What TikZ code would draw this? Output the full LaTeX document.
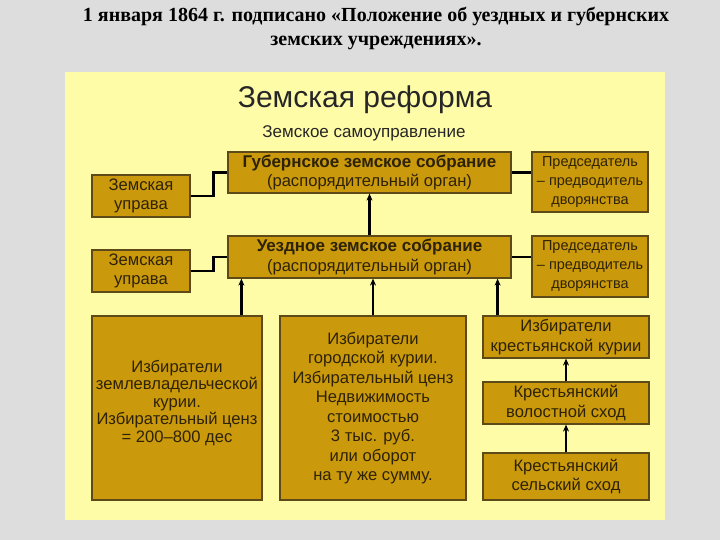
\documentclass[tikz,border=0pt]{standalone}
\usepackage{fontspec}
\setmainfont{Liberation Sans}
\newfontfamily\headfont{Liberation Serif}
\usetikzlibrary{arrows.meta, positioning, calc}
\definecolor{cPanel}{HTML}{FFFCA8}
\definecolor{cBack}{HTML}{DDDDDD}
\definecolor{cGold}{HTML}{CA9A0C}
\definecolor{cEdge}{HTML}{5E4A18}
\definecolor{cInk}{HTML}{2E2206}

\begin{document}
\begin{tikzpicture}[x=1pt, y=-1pt,
    box/.style={rectangle, draw=cEdge, fill=cGold, line width=1.2pt, inner sep=0pt, align=center, text=cInk, font=\fontsize{16.6}{19.5}\selectfont},
    smallbox/.style={box, font=\fontsize{14.5}{19}\selectfont},
    link/.style={line width=2.6pt, black},
    arrow/.style={-{Stealth[length=7pt, width=6pt]}, line width=2.6pt, black}
]
% Background and panel
\fill[cBack] (0,0) rectangle (720,540);
\fill[cPanel] (65,72) rectangle (665,520);
\useasboundingbox (0,0) rectangle (720,540);

% Headings
\node[font=\headfont\bfseries\fontsize{20}{24}\selectfont, align=center] (head) at (376,29)
  {1 января 1864 г. подписано «Положение об уездных и губернских\\земских учреждениях».};
\node[font=\fontsize{30}{34}\selectfont, text=black!85] (title) at (365,100) {Земская реформа};
\node[font=\fontsize{17}{20}\selectfont, text=black!85] (subtitle) at (364,133) {Земское самоуправление};

% Assemblies
\node[box, minimum width=283pt, minimum height=41pt] (gub) at (369.5,172.5)
  {\textbf{\fontsize{17}{19.5}\selectfont Губернское земское собрание}\\(распорядительный орган)};
\node[box, minimum width=283pt, minimum height=42pt] (uezd) at (369.5,257)
  {\textbf{\fontsize{17}{19.5}\selectfont Уездное земское собрание}\\(распорядительный орган)};

% Chairmen (right side)
\node[smallbox, minimum width=116pt, minimum height=60pt] (pred1) at (590,182)
  {Председатель\\– предводитель\\дворянства};
\node[smallbox, minimum width=116pt, minimum height=61pt] (pred2) at (590,266.5)
  {Председатель\\– предводитель\\дворянства};

% Boards (left side)
\node[box, minimum width=98pt, minimum height=42pt] (uprava1) at (141,196) {Земская\\управа};
\node[box, minimum width=98pt, minimum height=42pt] (uprava2) at (141,271) {Земская\\управа};

% Electors
\node[box, minimum width=170pt, minimum height=184pt, font=\fontsize{16.6}{17.5}\selectfont] (izbz) at (177,408)
  {Избиратели\\землевладельческой\\курии.\\Избирательный ценз\\= 200–800 дес\\[-4pt]};
\node[box, minimum width=186pt, minimum height=184pt] (izbg) at (373,408)
  {Избиратели\\городской курии.\\Избирательный ценз\\Недвижимость\\стоимостью\\3 тыс. руб.\\или оборот\\на ту же сумму.};
\node[box, minimum width=166pt, minimum height=42pt] (izbk) at (566,337)
  {Избиратели\\крестьянской курии};
\node[box, minimum width=166pt, minimum height=42pt] (volost) at (566,403)
  {Крестьянский\\волостной сход};
\node[box, minimum width=166pt, minimum height=47pt] (selsk) at (566,476.5)
  {Крестьянский\\сельский сход};

% Links to boards and chairmen
\draw[link] (uprava1.east) -- ++(23,0) |- (gub.west);
\draw[link] (uprava2.east) -- ++(23,0) |- (uezd.west);
\draw[link] (gub.east) -- (gub.east -| pred1.west);
\draw[link] (uezd.east) -- (uezd.east -| pred2.west);

% Arrows upward
\draw[arrow] (uezd.north) -- (gub.south);
\draw[arrow] ([xshift=14pt]uezd.south west |- izbz.north) -- ([xshift=14pt]uezd.south west);
\draw[arrow] (izbg.north) -- (izbg.north |- uezd.south);
\draw[arrow] ([xshift=-14pt]uezd.south east |- izbk.north) -- ([xshift=-14pt]uezd.south east);
\draw[arrow] (volost.north) -- (izbk.south);
\draw[arrow] (selsk.north) -- (volost.south);

\end{tikzpicture}
\end{document}
